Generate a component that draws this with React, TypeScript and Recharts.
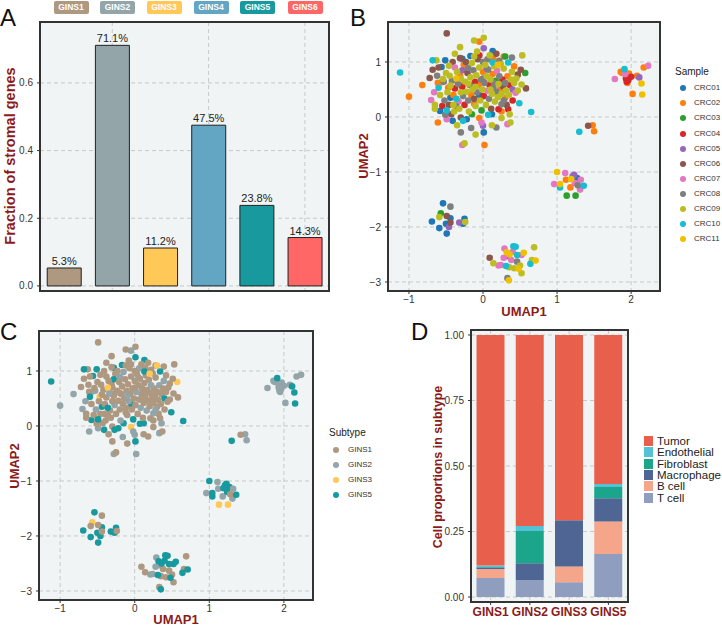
import React from 'react';
import {
  BarChart, Bar, XAxis, YAxis, CartesianGrid, LabelList, Cell,
  ScatterChart, Scatter,
} from 'recharts';

const FONT = '"Liberation Sans", Arial, Helvetica, sans-serif';
const TITLE_RED = '#8B1A1A';
const PANEL_BG = '#F0F4F5';
const GRID = '#C8C8C8';
const FRAME = '#333333';

// ---- panel A ----
const subtypes = ['GINS1', 'GINS2', 'GINS3', 'GINS4', 'GINS5', 'GINS6'];
const stromalFraction = [0.053, 0.711, 0.112, 0.475, 0.238, 0.143];
const subtypeColors = ['#AE9880', '#93A5A9', '#FFC857', '#62A6C3', '#17999E', '#FF6666'];
const fractionTicks = [0, 0.2, 0.4, 0.6];

// ---- panels B / C : umap1, umap2, sample (CRCxx), subtype (GINSx) ----
type Pt = [number, number, number, number];

const mainCluster: Pt[] = [
  [-0.49, 1.52, 6, 1], [-1.12, 0.81, 10, 5], [-1.0, 0.37, 2, 2], [-0.82, 0.58, 2, 2],
  [0.01, 1.44, 9, 1], [-0.05, 1.37, 2, 2], [-0.12, 1.39, 9, 1], [-0.31, 1.27, 9, 1],
  [0.01, 1.25, 5, 5], [-0.08, 1.19, 9, 1], [0.53, 1.12, 9, 1], [0.18, 1.15, 6, 1],
  [0.30, 1.10, 3, 3], [0.39, 1.08, 8, 1], [0.28, 1.10, 2, 1], [0.13, 1.20, 1, 5],
  [0.34, 0.99, 10, 5], [0.57, 0.80, 3, 3], [0.51, 0.86, 6, 1], [0.58, 0.52, 6, 1],
  [0.52, 0.59, 9, 1], [0.47, 0.77, 6, 1], [0.39, 0.82, 9, 2], [0.49, 0.25, 10, 5],
  [0.65, 0.09, 10, 5], [0.34, 0.14, 4, 1], [0.21, 0.14, 4, 1], [0.25, 0.23, 8, 2],
  [0.28, 0.30, 8, 2], [0.30, 0.35, 2, 1], [0.33, -0.13, 7, 2], [0.37, -0.10, 9, 1],
  [0.18, -0.19, 8, 1], [0.12, -0.15, 9, 1], [0.0, -0.16, 5, 2], [0.01, -0.28, 1, 5],
  [0.02, -0.51, 2, 2], [0.07, 0.04, 10, 5], [-0.05, -0.02, 2, 3], [-0.02, -0.10, 7, 2],
  [-0.12, 0.24, 2, 1], [-0.25, -0.48, 9, 1], [-0.28, -0.51, 7, 2], [-0.30, -0.28, 8, 1],
  [-0.27, -0.07, 10, 5], [-0.30, -0.01, 6, 1], [-0.22, -0.04, 1, 5], [-0.41, -0.07, 1, 5],
  [-0.49, -0.04, 7, 2], [-0.51, 0.04, 8, 1], [-0.49, 0.12, 10, 5], [-0.61, -0.10, 2, 2],
  [-0.58, 0.11, 1, 5], [-0.65, 0.15, 9, 1], [-0.65, 0.22, 9, 1], [-0.70, 0.31, 7, 2],
  [-0.66, 0.45, 7, 2], [-0.60, 0.53, 10, 5], [-0.36, 0.19, 8, 1], [-0.40, 0.22, 9, 1],
  [-0.36, 0.33, 10, 5], [-0.30, 0.45, 9, 1], [-0.68, 1.03, 10, 5], [-0.63, 1.03, 9, 1],
  [-0.51, 1.03, 1, 5], [-0.68, 0.86, 6, 1], [-0.60, 0.90, 6, 1], [-0.72, 0.71, 6, 1],
  [-0.38, 0.90, 7, 1], [-0.56, 0.91, 1, 5], [-0.41, 1.00, 6, 1], [-0.31, 1.07, 6, 1],
  [-0.28, 1.06, 1, 5], [-0.17, 1.11, 1, 5], [-0.31, 0.76, 2, 1], [-0.20, 0.89, 8, 2],
  [-0.61, 0.62, 2, 1], [-0.56, 0.63, 2, 1], [-0.47, 0.53, 2, 3], [-0.44, 0.57, 9, 1],
  [-0.54, 0.69, 9, 1], [-0.53, 0.64, 8, 2], [0.06, 1.05, 8, 2], [0.0, 1.0, 8, 1],
  [0.13, 0.99, 10, 5], [0.14, 1.06, 2, 1],
  [-0.45, 0.75, 9, 1], [-0.42, 0.66, 8, 1], [-0.40, 0.40, 2, 1], [-0.38, 0.52, 4, 1],
  [-0.35, 0.82, 9, 1], [-0.34, 0.60, 8, 2], [-0.33, 0.28, 7, 1], [-0.32, 0.15, 9, 1],
  [-0.30, 0.70, 9, 1], [-0.28, 0.55, 4, 1], [-0.27, 0.38, 8, 2], [-0.26, 0.95, 2, 1],
  [-0.25, 0.22, 4, 1], [-0.24, 0.64, 9, 1], [-0.22, 0.46, 9, 1], [-0.21, 0.80, 6, 1],
  [-0.20, 0.30, 8, 1], [-0.19, 0.10, 9, 2], [-0.18, 0.58, 8, 1], [-0.17, 0.72, 9, 1],
  [-0.16, 0.40, 2, 1], [-0.15, 0.98, 9, 2], [-0.14, 0.50, 9, 1], [-0.13, 0.85, 8, 1],
  [-0.12, 0.33, 6, 1], [-0.11, 0.64, 4, 1], [-0.10, 0.20, 9, 1], [-0.09, 0.76, 9, 1],
  [-0.08, 0.45, 8, 2], [-0.07, 1.05, 6, 1], [-0.06, 0.58, 2, 1], [-0.05, 0.90, 9, 1],
  [-0.04, 0.30, 9, 1], [-0.03, 0.68, 8, 1], [-0.02, 0.12, 3, 5], [-0.01, 0.50, 9, 1],
  [0.0, 0.82, 2, 1], [0.01, 0.38, 4, 1], [0.02, 0.62, 8, 2], [0.03, 0.95, 9, 1],
  [0.04, 0.22, 9, 1], [0.05, 0.74, 9, 1], [0.06, 0.48, 7, 1], [0.07, 0.86, 8, 1],
  [0.08, 0.33, 8, 2], [0.09, 0.58, 4, 1], [0.10, 0.68, 9, 1], [0.11, 0.15, 6, 1],
  [0.12, 0.42, 9, 1], [0.13, 0.78, 2, 1], [0.14, 0.54, 8, 1], [0.15, 0.92, 9, 1],
  [0.16, 0.28, 9, 2], [0.17, 0.66, 3, 1], [0.18, 0.46, 8, 1], [0.19, 0.84, 7, 1],
  [0.20, 0.36, 9, 1], [0.21, 0.60, 9, 1], [0.22, 0.74, 8, 2], [0.23, 0.50, 2, 1],
  [0.24, 0.96, 9, 1], [0.25, 0.42, 9, 1], [0.26, 0.68, 4, 1], [0.27, 0.56, 6, 1],
  [0.28, 0.88, 9, 1], [0.30, 0.62, 8, 1], [0.31, 0.48, 9, 1], [0.33, 0.74, 2, 2],
  [0.35, 0.40, 9, 1], [0.36, 0.58, 4, 1], [0.38, 0.68, 9, 1], [0.40, 0.50, 5, 5],
  [0.42, 0.62, 9, 1], [0.44, 0.44, 7, 1], [0.45, 0.70, 9, 1], [-0.44, 0.35, 1, 5],
  [-0.46, 0.22, 6, 1], [-0.48, 0.45, 9, 1], [-0.50, 0.80, 9, 1], [-0.52, 0.30, 8, 2],
  [-0.39, 0.10, 9, 1], [-0.23, 1.00, 6, 1], [-0.12, 1.10, 9, 1], [0.09, 1.12, 9, 1],
  [-0.36, 0.70, 11, 3], [0.20, 0.95, 11, 3], [0.12, 0.05, 1, 5], [-0.15, 0.05, 3, 5],
  [-0.28, 0.85, 5, 5], [0.25, 0.10, 2, 1], [-0.05, 0.40, 1, 5], [0.05, 0.88, 5, 2],
  [0.32, 0.22, 6, 1], [-0.20, 0.60, 9, 1], [0.0, 0.70, 8, 1], [-0.10, 0.55, 9, 2],
  [0.10, 0.50, 9, 1], [-0.30, 0.58, 2, 1], [0.15, 0.62, 8, 1],
  [-0.58, 0.40, 9, 1], [-0.55, 0.20, 4, 1], [-0.62, 0.75, 8, 1], [-0.46, 0.93, 9, 1],
  [-0.43, 0.05, 6, 1], [-0.35, -0.15, 9, 1], [-0.16, -0.20, 8, 2], [-0.10, -0.32, 9, 1],
  [0.25, -0.02, 9, 1], [0.40, 0.30, 4, 1], [0.47, 0.48, 9, 1], [0.42, 0.92, 2, 1],
  [0.22, 1.02, 8, 1], [-0.38, 1.15, 9, 1], [-0.05, 1.12, 4, 1], [0.36, 0.05, 9, 2],
];

const topRightCluster: Pt[] = [
  [1.86, 0.82, 2, 2], [1.91, 0.87, 10, 5], [1.92, 0.78, 7, 2], [1.97, 0.79, 2, 2],
  [2.00, 0.73, 4, 2], [1.96, 0.67, 4, 2], [1.94, 0.64, 4, 2], [1.95, 0.62, 2, 2],
  [1.78, 0.69, 7, 2], [2.08, 0.75, 2, 2], [2.11, 0.72, 5, 5], [2.17, 0.90, 2, 2],
  [2.23, 0.93, 7, 2], [2.14, 0.61, 11, 5], [2.02, 0.42, 2, 2], [2.15, 0.41, 11, 5],
  [1.88, 0.80, 2, 2], [1.93, 0.70, 4, 2],
];

const smallCluster: Pt[] = [
  [1.42, -0.16, 6, 1], [1.48, -0.15, 2, 2], [1.50, -0.26, 2, 2], [1.30, -0.27, 10, 5],
];

const rightMidCluster: Pt[] = [
  [1.00, -1.00, 11, 5], [1.11, -1.02, 7, 2], [1.23, -1.05, 5, 5], [1.27, -1.11, 1, 5],
  [1.12, -1.14, 2, 2], [1.19, -1.13, 11, 5], [0.96, -1.22, 7, 2], [1.04, -1.22, 11, 5],
  [1.04, -1.28, 10, 5], [1.24, -1.20, 7, 5], [1.28, -1.24, 8, 1], [1.36, -1.25, 10, 5],
  [1.32, -1.14, 7, 2], [1.18, -1.28, 2, 2], [1.31, -1.32, 7, 2], [1.13, -1.43, 3, 3],
  [1.25, -1.43, 3, 3], [1.21, -1.08, 5, 5],
];

const leftLowCluster: Pt[] = [
  [-0.54, -1.57, 1, 5], [-0.44, -1.63, 8, 1], [-0.57, -1.75, 3, 3], [-0.59, -1.82, 9, 1],
  [-0.49, -1.80, 6, 1], [-0.44, -1.84, 1, 5], [-0.69, -1.90, 1, 5], [-0.50, -1.94, 1, 5],
  [-0.44, -1.92, 6, 1], [-0.46, -2.00, 5, 5], [-0.59, -2.02, 1, 5], [-0.49, -2.12, 1, 5],
  [-0.32, -1.92, 5, 5], [-0.25, -1.85, 1, 5], [-0.24, -1.91, 9, 1], [-0.27, -1.94, 1, 5],
];

const bottomCluster: Pt[] = [
  [0.09, -2.56, 6, 1], [0.14, -2.66, 9, 1], [0.21, -2.70, 7, 2], [0.24, -2.69, 7, 2],
  [0.29, -2.39, 7, 2], [0.32, -2.46, 11, 5], [0.36, -2.50, 11, 5], [0.28, -2.56, 7, 2],
  [0.34, -2.53, 5, 2], [0.41, -2.35, 10, 5], [0.44, -2.36, 10, 5], [0.55, -2.47, 11, 5],
  [0.52, -2.51, 7, 5], [0.46, -2.51, 10, 5], [0.46, -2.63, 8, 1], [0.38, -2.60, 7, 1],
  [0.31, -2.71, 10, 5], [0.35, -2.73, 9, 1], [0.42, -2.75, 9, 1], [0.48, -2.76, 11, 5],
  [0.52, -2.84, 9, 1], [0.69, -2.37, 9, 1], [0.66, -2.60, 9, 1], [0.71, -2.61, 11, 5],
  [0.64, -2.67, 10, 5], [0.33, -2.93, 8, 1], [0.35, -2.97, 11, 5], [0.40, -2.45, 7, 5],
  [0.50, -2.70, 9, 1],
];

const samples = ['CRC01', 'CRC02', 'CRC03', 'CRC04', 'CRC05', 'CRC06', 'CRC07', 'CRC08', 'CRC09', 'CRC10', 'CRC11'];
const sampleColors = ['#1F77B4', '#FF7F0E', '#2CA02C', '#D62728', '#9467BD', '#8C564B', '#E377C2', '#7F7F7F', '#BCBD22', '#17BECF', '#EFC000'];
const scSubtypes = [1, 2, 3, 5]; // GINS subtypes present in the single-cell data
const umap1Ticks = [-1, 0, 1, 2];
const umap2Ticks = [-3, -2, -1, 0, 1];

// ---- panel D ----
const dSubtypes = ['GINS1', 'GINS2', 'GINS3', 'GINS5'];
const tCell = [0.073, 0.064, 0.056, 0.164];
const bCell = [0.034, 0.0, 0.060, 0.124];
const macrophage = [0.006, 0.065, 0.177, 0.089];
const fibroblast = [0.002, 0.123, 0.0, 0.043];
const endothelial = [0.005, 0.019, 0.0, 0.011];
const tumor = [0.880, 0.729, 0.707, 0.569];
const cellTypes = ['T cell', 'B cell', 'Macrophage', 'Fibroblast', 'Endothelial', 'Tumor'];
const cellColors = ['#8F9DBE', '#F4A58A', '#4F6593', '#1BA58A', '#55C1D7', '#E8604C'];
const propTicks = [0, 0.25, 0.5, 0.75, 1];

const aData = subtypes.map((name, i) => ({ name, value: stromalFraction[i] }));
const points = [...mainCluster, ...topRightCluster, ...smallCluster, ...rightMidCluster, ...leftLowCluster, ...bottomCluster]
  .map(([x, y, s, g]) => ({ x, y, s, g }))
  .sort((a, b) => a.s - b.s);
const dSeries = [tCell, bCell, macrophage, fibroblast, endothelial, tumor];
const dData = dSubtypes.map((name, i) => {
  const row: Record<string, number | string> = { name };
  cellTypes.forEach((c, j) => { row[c] = dSeries[j][i]; });
  return row;
});

const minus = (v: number) => (v < 0 ? '\u2212' + Math.abs(v) : String(v));
const tickStyle = { fill: '#333', fontSize: 10, fontFamily: FONT };

function Letter({ x, y, t }: { x: number; y: number; t: string }) {
  return (
    <div style={{ position: 'absolute', left: x, top: y, fontSize: 24, lineHeight: '24px', fontFamily: FONT, color: '#111' }}>{t}</div>
  );
}

function Title({ x, y, t, size, rotate }: { x: number; y: number; t: string; size: number; rotate?: boolean }) {
  return (
    <div style={{
      position: 'absolute', left: x, top: y, transform: `translate(-50%, -50%)${rotate ? ' rotate(-90deg)' : ''}`,
      fontSize: size, fontWeight: 'bold', color: TITLE_RED, fontFamily: FONT, whiteSpace: 'nowrap', lineHeight: 1,
    }}>{t}</div>
  );
}

// panel border drawn over the plotting area
function Frame({ x0, y0, x1, y1 }: { x0: number; y0: number; x1: number; y1: number }) {
  return (
    <div style={{
      position: 'absolute', left: x0 - 1, top: y0 - 1, width: x1 - x0 + 2, height: y1 - y0 + 2,
      border: `2px solid ${FRAME}`, boxSizing: 'border-box', pointerEvents: 'none',
    }} />
  );
}

function UmapPanel({ colorOf, height, margin, yWidth, xHeight }: {
  colorOf: (p: { s: number; g: number }) => string; height: number;
  margin: { top: number; right: number; bottom: number; left: number }; yWidth: number; xHeight: number;
}) {
  return (
    <ScatterChart width={361} height={height} margin={margin}>
      <CartesianGrid fill={PANEL_BG} stroke={GRID} strokeDasharray="4 3" />
      <XAxis type="number" dataKey="x" domain={[-1.283, 2.39]} ticks={umap1Ticks} allowDataOverflow
        height={xHeight} axisLine={false} tickSize={3} tickMargin={2} tickFormatter={minus}
        tick={tickStyle} tickLine={{ stroke: '#333' }} />
      <YAxis type="number" dataKey="y" domain={[-3.164, 1.727]} ticks={umap2Ticks} allowDataOverflow
        width={yWidth} axisLine={false} tickSize={3} tickMargin={4} tickFormatter={minus}
        tick={tickStyle} tickLine={{ stroke: '#333' }} />
      <Scatter data={points} isAnimationActive={false}
        shape={(p: any) => <circle cx={p.cx} cy={p.cy} r={3.3} fill={p.fill} />}>
        {points.map((p, i) => <Cell key={i} fill={colorOf(p)} />)}
      </Scatter>
    </ScatterChart>
  );
}

const legendBoxCenters = [71, 117.5, 164, 211, 257.5, 305];

export default function App() {
  return (
    <div style={{ position: 'absolute', left: 0, top: 0, width: 722, height: 627, background: '#fff', overflow: 'hidden', fontFamily: FONT }}>
      {/* A */}
      <div style={{ position: 'absolute', left: 0, top: 0 }}>
        <BarChart width={361} height={300} data={aData} margin={{ top: 22, right: 32, bottom: 9, left: 10 }} barCategoryGap="15%">
          <CartesianGrid fill={PANEL_BG} stroke={GRID} strokeDasharray="4 3" />
          <XAxis dataKey="name" hide />
          <YAxis width={30} domain={[-0.015, 0.78]} ticks={fractionTicks} allowDataOverflow axisLine={false}
            tickSize={3} tickMargin={4} tickFormatter={(v: number) => v.toFixed(1)} tick={tickStyle} tickLine={{ stroke: '#333' }} />
          <Bar dataKey="value" stroke="#222" strokeWidth={1} isAnimationActive={false}>
            {aData.map((d, i) => <Cell key={d.name} fill={subtypeColors[i]} />)}
            <LabelList dataKey="value" position="top" offset={3}
              formatter={(v: any) => (Number(v) * 100).toFixed(1) + '%'}
              style={{ fill: '#222', fontSize: 11, fontFamily: FONT }} />
          </Bar>
        </BarChart>
      </div>
      <Frame x0={40} y0={22} x1={329} y1={291} />
      {subtypes.map((s, i) => (
        <div key={s} style={{
          position: 'absolute', left: legendBoxCenters[i] - 17.5, top: 1, width: 35, height: 13, borderRadius: 2,
          background: subtypeColors[i], color: '#fff', fontSize: 8.5, fontWeight: 'bold', textAlign: 'center', lineHeight: '13px',
        }}>{s}</div>
      ))}
      <Title x={10} y={156} t="Fraction of stromal genes" size={14.5} rotate />
      <Letter x={0} y={6} t="A" />

      {/* B */}
      <div style={{ position: 'absolute', left: 361, top: 0 }}>
        <UmapPanel colorOf={(p) => sampleColors[p.s - 1]} height={310}
          margin={{ top: 22, right: 62, bottom: 0, left: 0 }} yWidth={27} xHeight={19} />
      </div>
      <Frame x0={388} y0={22} x1={660} y1={291} />
      <Letter x={350} y={6} t="B" />
      <Title x={363} y={156} t="UMAP2" size={13} rotate />
      <Title x={524} y={311} t="UMAP1" size={13} />
      <div style={{ position: 'absolute', left: 675, top: 66, fontSize: 10, color: '#222', lineHeight: '12px' }}>Sample</div>
      {samples.map((s, i) => (
        <React.Fragment key={s}>
          <div style={{ position: 'absolute', left: 680, top: 88.3 + i * 15.07 - 3, width: 6, height: 6, borderRadius: 3, background: sampleColors[i] }} />
          <div style={{ position: 'absolute', left: 694, top: 88.3 + i * 15.07 - 5, fontSize: 8, lineHeight: '10px', color: '#333' }}>{s}</div>
        </React.Fragment>
      ))}

      {/* C */}
      <div style={{ position: 'absolute', left: 0, top: 310 }}>
        <UmapPanel colorOf={(p) => subtypeColors[p.g - 1]} height={317}
          margin={{ top: 21, right: 48, bottom: 0, left: 0 }} yWidth={39} xHeight={27} />
      </div>
      <Frame x0={39} y0={331} x1={313} y1={600} />
      <Letter x={0} y={320} t="C" />
      <Title x={14} y={466} t="UMAP2" size={13} rotate />
      <Title x={176} y={619} t="UMAP1" size={13} />
      <div style={{ position: 'absolute', left: 329, top: 427, fontSize: 10, color: '#222', lineHeight: '12px' }}>Subtype</div>
      {scSubtypes.map((g, i) => (
        <React.Fragment key={g}>
          <div style={{ position: 'absolute', left: 333, top: 450 + i * 15 - 3, width: 6, height: 6, borderRadius: 3, background: subtypeColors[g - 1] }} />
          <div style={{ position: 'absolute', left: 348, top: 450 + i * 15 - 5, fontSize: 8, lineHeight: '10px', color: '#333' }}>{subtypes[g - 1]}</div>
        </React.Fragment>
      ))}

      {/* D */}
      <div style={{ position: 'absolute', left: 361, top: 310 }}>
        <BarChart width={361} height={317} data={dData} margin={{ top: 20, right: 94, bottom: 0, left: 0 }} barCategoryGap="14%">
          <CartesianGrid fill={PANEL_BG} stroke={GRID} strokeDasharray="4 3" />
          <XAxis dataKey="name" height={25} interval={0} axisLine={false} tickSize={3} tickMargin={2} tickLine={{ stroke: '#333' }}
            tick={{ fill: TITLE_RED, fontSize: 12, fontWeight: 'bold', fontFamily: FONT }} />
          <YAxis width={110} domain={[-0.019, 1.019]} ticks={propTicks} allowDataOverflow axisLine={false}
            tickSize={3} tickMargin={4} tickFormatter={(v: number) => v.toFixed(2)} tick={tickStyle} tickLine={{ stroke: '#333' }} />
          {cellTypes.map((c, j) => (
            <Bar key={c} dataKey={c} stackId="a" fill={cellColors[j]} isAnimationActive={false} />
          ))}
        </BarChart>
      </div>
      <Frame x0={471} y0={330} x1={628} y1={602} />
      <Letter x={411} y={320} t="D" />
      <Title x={438} y={467} t="Cell proportions in subtype" size={12.5} rotate />
      {[...cellTypes].reverse().map((c, i) => (
        <React.Fragment key={c}>
          <div style={{ position: 'absolute', left: 644, top: 441 + i * 11.3 - 5, width: 9, height: 10, background: cellColors[cellTypes.length - 1 - i] }} />
          <div style={{ position: 'absolute', left: 657, top: 441 + i * 11.3 - 7, fontSize: 11.5, lineHeight: '14px', color: '#222' }}>{c}</div>
        </React.Fragment>
      ))}
    </div>
  );
}
